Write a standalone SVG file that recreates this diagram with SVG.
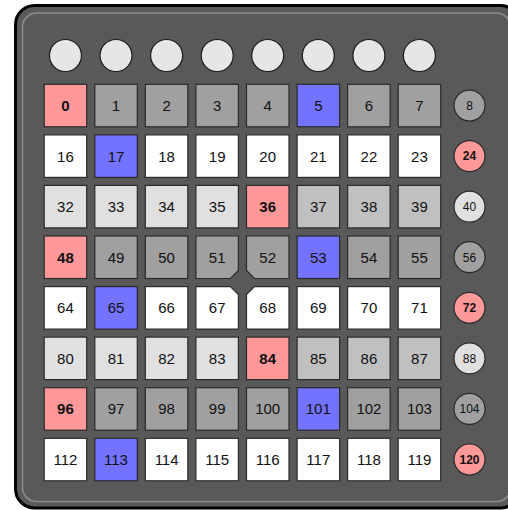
<svg xmlns="http://www.w3.org/2000/svg" width="508" height="510" viewBox="0 0 508 510">
<style>
.p{stroke:#2a2a2a;stroke-width:1.2}
.r{fill:#ff9999}.g{fill:#a0a0a0}.m{fill:#c0c0c0}.l{fill:#e0e0e0}.w{fill:#ffffff}.b{fill:#7373ff}
.c{fill:#e6e6e6;stroke:#1a1a1a;stroke-width:1.2}
.t{font-family:"Liberation Sans",Arial,sans-serif;font-size:15px;text-anchor:middle;fill:#111}
.s{font-family:"Liberation Sans",Arial,sans-serif;font-size:12px;text-anchor:middle;fill:#111}
.bd{font-weight:bold}
</style>
<g id="frame">
<rect x="15.5" y="5.5" width="504" height="502.5" rx="19" fill="#595959" stroke="#000" stroke-width="3"/>
<rect x="22.5" y="13" width="488" height="488.5" rx="14" fill="none" stroke="#8c8c8c" stroke-width="1.5"/>
</g>
<g id="connectors"></g>
<g id="top-buttons">
<circle class="c" cx="65.45" cy="55.5" r="16"/>
<circle class="c" cx="116" cy="55.5" r="16"/>
<circle class="c" cx="166.6" cy="55.5" r="16"/>
<circle class="c" cx="217.2" cy="55.5" r="16"/>
<circle class="c" cx="267.7" cy="55.5" r="16"/>
<circle class="c" cx="318.3" cy="55.5" r="16"/>
<circle class="c" cx="368.9" cy="55.5" r="16"/>
<circle class="c" cx="419.4" cy="55.5" r="16"/>
</g>
<g id="row0">
<g id="p0"><rect class="p r" x="44.2" y="84.3" width="42.5" height="42.5"/><text class="t bd" x="65.45" y="110.9">0</text></g>
<g id="p1"><rect class="p g" x="94.8" y="84.3" width="42.5" height="42.5"/><text class="t" x="116" y="110.9">1</text></g>
<g id="p2"><rect class="p g" x="145.3" y="84.3" width="42.5" height="42.5"/><text class="t" x="166.6" y="110.9">2</text></g>
<g id="p3"><rect class="p g" x="195.9" y="84.3" width="42.5" height="42.5"/><text class="t" x="217.2" y="110.9">3</text></g>
<g id="p4"><rect class="p g" x="246.5" y="84.3" width="42.5" height="42.5"/><text class="t" x="267.7" y="110.9">4</text></g>
<g id="p5"><rect class="p b" x="297.1" y="84.3" width="42.5" height="42.5"/><text class="t" x="318.3" y="110.9">5</text></g>
<g id="p6"><rect class="p g" x="347.6" y="84.3" width="42.5" height="42.5"/><text class="t" x="368.9" y="110.9">6</text></g>
<g id="p7"><rect class="p g" x="398.2" y="84.3" width="42.5" height="42.5"/><text class="t" x="419.4" y="110.9">7</text></g>
</g>
<g id="row1">
<g id="p16"><rect class="p w" x="44.2" y="134.9" width="42.5" height="42.5"/><text class="t" x="65.45" y="161.5">16</text></g>
<g id="p17"><rect class="p b" x="94.8" y="134.9" width="42.5" height="42.5"/><text class="t" x="116" y="161.5">17</text></g>
<g id="p18"><rect class="p w" x="145.3" y="134.9" width="42.5" height="42.5"/><text class="t" x="166.6" y="161.5">18</text></g>
<g id="p19"><rect class="p w" x="195.9" y="134.9" width="42.5" height="42.5"/><text class="t" x="217.2" y="161.5">19</text></g>
<g id="p20"><rect class="p w" x="246.5" y="134.9" width="42.5" height="42.5"/><text class="t" x="267.7" y="161.5">20</text></g>
<g id="p21"><rect class="p w" x="297.1" y="134.9" width="42.5" height="42.5"/><text class="t" x="318.3" y="161.5">21</text></g>
<g id="p22"><rect class="p w" x="347.6" y="134.9" width="42.5" height="42.5"/><text class="t" x="368.9" y="161.5">22</text></g>
<g id="p23"><rect class="p w" x="398.2" y="134.9" width="42.5" height="42.5"/><text class="t" x="419.4" y="161.5">23</text></g>
</g>
<g id="row2">
<g id="p32"><rect class="p l" x="44.2" y="185.4" width="42.5" height="42.5"/><text class="t" x="65.45" y="212.1">32</text></g>
<g id="p33"><rect class="p l" x="94.8" y="185.4" width="42.5" height="42.5"/><text class="t" x="116" y="212.1">33</text></g>
<g id="p34"><rect class="p l" x="145.3" y="185.4" width="42.5" height="42.5"/><text class="t" x="166.6" y="212.1">34</text></g>
<g id="p35"><rect class="p l" x="195.9" y="185.4" width="42.5" height="42.5"/><text class="t" x="217.2" y="212.1">35</text></g>
<g id="p36"><rect class="p r" x="246.5" y="185.4" width="42.5" height="42.5"/><text class="t bd" x="267.7" y="212.1">36</text></g>
<g id="p37"><rect class="p m" x="297.1" y="185.4" width="42.5" height="42.5"/><text class="t" x="318.3" y="212.1">37</text></g>
<g id="p38"><rect class="p m" x="347.6" y="185.4" width="42.5" height="42.5"/><text class="t" x="368.9" y="212.1">38</text></g>
<g id="p39"><rect class="p m" x="398.2" y="185.4" width="42.5" height="42.5"/><text class="t" x="419.4" y="212.1">39</text></g>
</g>
<g id="row3">
<g id="p48"><rect class="p r" x="44.2" y="236" width="42.5" height="42.5"/><text class="t bd" x="65.45" y="262.6">48</text></g>
<g id="p49"><rect class="p g" x="94.8" y="236" width="42.5" height="42.5"/><text class="t" x="116" y="262.6">49</text></g>
<g id="p50"><rect class="p g" x="145.3" y="236" width="42.5" height="42.5"/><text class="t" x="166.6" y="262.6">50</text></g>
<g id="p51"><path class="p g" d="M195.9,236 H238.4 V270.5 L230.4,278.5 H195.9 Z"/><text class="t" x="217.2" y="262.6">51</text></g>
<g id="p52"><path class="p g" d="M246.5,236 H289 V278.5 H254.5 L246.5,270.5 Z"/><text class="t" x="267.7" y="262.6">52</text></g>
<g id="p53"><rect class="p b" x="297.1" y="236" width="42.5" height="42.5"/><text class="t" x="318.3" y="262.6">53</text></g>
<g id="p54"><rect class="p g" x="347.6" y="236" width="42.5" height="42.5"/><text class="t" x="368.9" y="262.6">54</text></g>
<g id="p55"><rect class="p g" x="398.2" y="236" width="42.5" height="42.5"/><text class="t" x="419.4" y="262.6">55</text></g>
</g>
<g id="row4">
<g id="p64"><rect class="p w" x="44.2" y="286.6" width="42.5" height="42.5"/><text class="t" x="65.45" y="313.2">64</text></g>
<g id="p65"><rect class="p b" x="94.8" y="286.6" width="42.5" height="42.5"/><text class="t" x="116" y="313.2">65</text></g>
<g id="p66"><rect class="p w" x="145.3" y="286.6" width="42.5" height="42.5"/><text class="t" x="166.6" y="313.2">66</text></g>
<g id="p67"><path class="p w" d="M195.9,286.6 H230.4 L238.4,294.6 V329.1 H195.9 Z"/><text class="t" x="217.2" y="313.2">67</text></g>
<g id="p68"><path class="p w" d="M254.5,286.6 H289 V329.1 H246.5 V294.6 Z"/><text class="t" x="267.7" y="313.2">68</text></g>
<g id="p69"><rect class="p w" x="297.1" y="286.6" width="42.5" height="42.5"/><text class="t" x="318.3" y="313.2">69</text></g>
<g id="p70"><rect class="p w" x="347.6" y="286.6" width="42.5" height="42.5"/><text class="t" x="368.9" y="313.2">70</text></g>
<g id="p71"><rect class="p w" x="398.2" y="286.6" width="42.5" height="42.5"/><text class="t" x="419.4" y="313.2">71</text></g>
</g>
<g id="row5">
<g id="p80"><rect class="p l" x="44.2" y="337.1" width="42.5" height="42.5"/><text class="t" x="65.45" y="363.8">80</text></g>
<g id="p81"><rect class="p l" x="94.8" y="337.1" width="42.5" height="42.5"/><text class="t" x="116" y="363.8">81</text></g>
<g id="p82"><rect class="p l" x="145.3" y="337.1" width="42.5" height="42.5"/><text class="t" x="166.6" y="363.8">82</text></g>
<g id="p83"><rect class="p l" x="195.9" y="337.1" width="42.5" height="42.5"/><text class="t" x="217.2" y="363.8">83</text></g>
<g id="p84"><rect class="p r" x="246.5" y="337.1" width="42.5" height="42.5"/><text class="t bd" x="267.7" y="363.8">84</text></g>
<g id="p85"><rect class="p m" x="297.1" y="337.1" width="42.5" height="42.5"/><text class="t" x="318.3" y="363.8">85</text></g>
<g id="p86"><rect class="p m" x="347.6" y="337.1" width="42.5" height="42.5"/><text class="t" x="368.9" y="363.8">86</text></g>
<g id="p87"><rect class="p m" x="398.2" y="337.1" width="42.5" height="42.5"/><text class="t" x="419.4" y="363.8">87</text></g>
</g>
<g id="row6">
<g id="p96"><rect class="p r" x="44.2" y="387.7" width="42.5" height="42.5"/><text class="t bd" x="65.45" y="414.3">96</text></g>
<g id="p97"><rect class="p g" x="94.8" y="387.7" width="42.5" height="42.5"/><text class="t" x="116" y="414.3">97</text></g>
<g id="p98"><rect class="p g" x="145.3" y="387.7" width="42.5" height="42.5"/><text class="t" x="166.6" y="414.3">98</text></g>
<g id="p99"><rect class="p g" x="195.9" y="387.7" width="42.5" height="42.5"/><text class="t" x="217.2" y="414.3">99</text></g>
<g id="p100"><rect class="p g" x="246.5" y="387.7" width="42.5" height="42.5"/><text class="t" x="267.7" y="414.3">100</text></g>
<g id="p101"><rect class="p b" x="297.1" y="387.7" width="42.5" height="42.5"/><text class="t" x="318.3" y="414.3">101</text></g>
<g id="p102"><rect class="p g" x="347.6" y="387.7" width="42.5" height="42.5"/><text class="t" x="368.9" y="414.3">102</text></g>
<g id="p103"><rect class="p g" x="398.2" y="387.7" width="42.5" height="42.5"/><text class="t" x="419.4" y="414.3">103</text></g>
</g>
<g id="row7">
<g id="p112"><rect class="p w" x="44.2" y="438.3" width="42.5" height="42.5"/><text class="t" x="65.45" y="464.9">112</text></g>
<g id="p113"><rect class="p b" x="94.8" y="438.3" width="42.5" height="42.5"/><text class="t" x="116" y="464.9">113</text></g>
<g id="p114"><rect class="p w" x="145.3" y="438.3" width="42.5" height="42.5"/><text class="t" x="166.6" y="464.9">114</text></g>
<g id="p115"><rect class="p w" x="195.9" y="438.3" width="42.5" height="42.5"/><text class="t" x="217.2" y="464.9">115</text></g>
<g id="p116"><rect class="p w" x="246.5" y="438.3" width="42.5" height="42.5"/><text class="t" x="267.7" y="464.9">116</text></g>
<g id="p117"><rect class="p w" x="297.1" y="438.3" width="42.5" height="42.5"/><text class="t" x="318.3" y="464.9">117</text></g>
<g id="p118"><rect class="p w" x="347.6" y="438.3" width="42.5" height="42.5"/><text class="t" x="368.9" y="464.9">118</text></g>
<g id="p119"><rect class="p w" x="398.2" y="438.3" width="42.5" height="42.5"/><text class="t" x="419.4" y="464.9">119</text></g>
</g>
<g id="side-buttons">
<g id="s8"><circle class="p g" cx="469.5" cy="105.55" r="15.5"/><text class="s" x="469.5" y="109.9">8</text></g>
<g id="s24"><circle class="p r" cx="469.5" cy="156.1" r="15.5"/><text class="s bd" x="469.5" y="160.4">24</text></g>
<g id="s40"><circle class="p l" cx="469.5" cy="206.7" r="15.5"/><text class="s" x="469.5" y="211">40</text></g>
<g id="s56"><circle class="p g" cx="469.5" cy="257.2" r="15.5"/><text class="s" x="469.5" y="261.5">56</text></g>
<g id="s72"><circle class="p r" cx="469.5" cy="307.8" r="15.5"/><text class="s bd" x="469.5" y="312.1">72</text></g>
<g id="s88"><circle class="p l" cx="469.5" cy="358.4" r="15.5"/><text class="s" x="469.5" y="362.7">88</text></g>
<g id="s104"><circle class="p g" cx="469.5" cy="408.9" r="15.5"/><text class="s" x="469.5" y="413.2">104</text></g>
<g id="s120"><circle class="p r" cx="469.5" cy="459.5" r="15.5"/><text class="s bd" x="469.5" y="463.8">120</text></g>
</g>
</svg>
